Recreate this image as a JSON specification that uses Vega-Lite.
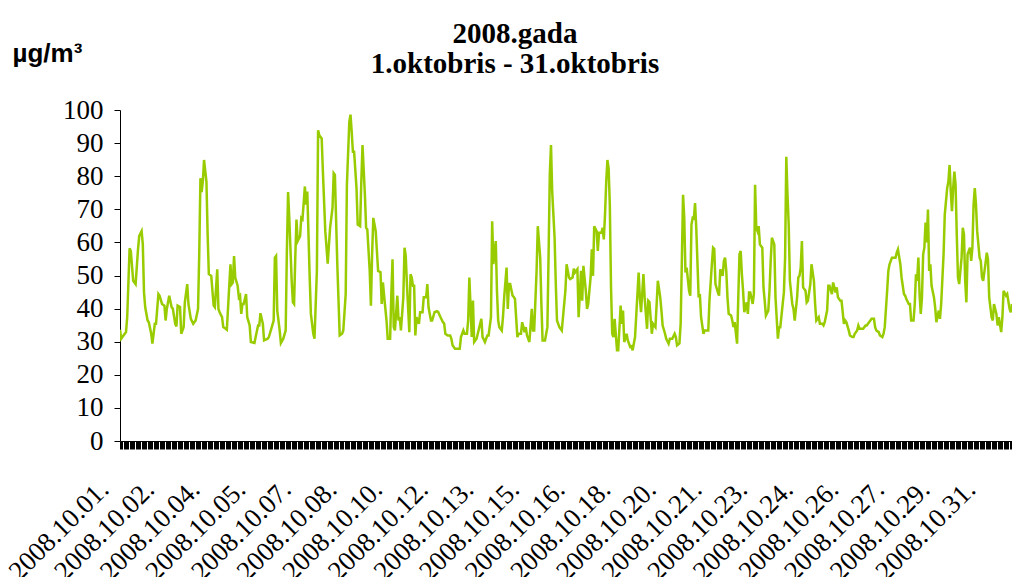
{
  "$schema": "https://vega.github.io/schema/vega-lite/v6.json",
  "autosize": {"type": "none"},
  "width": 892,
  "height": 331,
  "padding": {"left": 120, "top": 110, "right": 0, "bottom": 136},
  "background": "white",
  "config": {"view": {"stroke": null}},
  "title": {
    "text": ["2008.gada", "1.oktobris - 31.oktobris"],
    "font": "Liberation Serif",
    "fontSize": 29,
    "fontWeight": "bold",
    "color": "black",
    "lineHeight": 30,
    "anchor": "middle",
    "frame": "group",
    "baseline": "bottom",
    "dx": -51,
    "dy": 68,
    "offset": 0
  },
  "data": {"values": [
    {"h":0,"v":33.6},{"h":1,"v":30.9},{"h":5,"v":32.9},{"h":6,"v":37.4},{"h":8,"v":58.2},{"h":9,"v":57.4},{"h":11,"v":48.4},{"h":13,"v":47.4},{"h":15,"v":57.9},{"h":16,"v":61.9},{"h":18,"v":63.4},{"h":19,"v":59.4},{"h":20,"v":44.9},{"h":21,"v":40.4},{"h":23,"v":36.4},{"h":24,"v":35.9},{"h":26,"v":32.4},{"h":27,"v":29.4},{"h":29,"v":35.4},{"h":30,"v":35.4},{"h":32,"v":44.4},{"h":33,"v":43.9},{"h":35,"v":41.4},{"h":37,"v":40.9},{"h":38,"v":36.4},{"h":39,"v":39.9},{"h":41,"v":43.9},{"h":43,"v":40.4},{"h":44,"v":40.0},{"h":46,"v":35.4},{"h":47,"v":34.6},{"h":48,"v":40.9},{"h":50,"v":40.5},{"h":51,"v":32.4},{"h":53,"v":34.4},{"h":54,"v":41.9},{"h":56,"v":47.4},{"h":57,"v":41.4},{"h":59,"v":36.9},{"h":61,"v":35.4},{"h":63,"v":36.4},{"h":65,"v":39.9},{"h":66,"v":56.4},{"h":67,"v":79.4},{"h":68,"v":75.2},{"h":69,"v":78.4},{"h":70,"v":84.9},
    {"h":72,"v":78.4},{"h":73,"v":62.4},{"h":74,"v":50.4},{"h":76,"v":49.9},{"h":78,"v":40.9},{"h":79,"v":40.4},{"h":81,"v":51.9},{"h":82,"v":39.9},{"h":83,"v":38.9},{"h":85,"v":37.4},{"h":86,"v":34.4},{"h":88,"v":33.9},{"h":89,"v":33.6},{"h":91,"v":46.9},{"h":92,"v":53.4},{"h":93,"v":47.4},{"h":94,"v":47.9},{"h":95,"v":55.9},{"h":96,"v":49.4},{"h":98,"v":46.9},{"h":99,"v":43.4},{"h":100,"v":43.9},{"h":101,"v":38.4},{"h":102,"v":41.4},{"h":103,"v":41.4},{"h":105,"v":44.4},{"h":106,"v":37.4},{"h":108,"v":34.9},{"h":109,"v":29.9},{"h":112,"v":29.6},{"h":113,"v":31.4},{"h":115,"v":34.9},{"h":116,"v":34.9},{"h":117,"v":38.6},{"h":119,"v":35.4},{"h":120,"v":30.4},{"h":123,"v":30.9},{"h":124,"v":31.4},{"h":126,"v":33.9},{"h":128,"v":36.4},{"h":129,"v":55.4},{"h":130,"v":55.9},{"h":131,"v":39.4},{"h":133,"v":33.4},{"h":134,"v":29.6},{"h":136,"v":30.9},{"h":138,"v":33.4},{"h":139,"v":57.4},{"h":140,"v":75.2},{"h":141,"v":67.4},{"h":143,"v":48.4},{"h":144,"v":41.9},{"h":145,"v":41.4},{"h":146,"v":55.4},{"h":147,"v":66.9},{"h":148,"v":60.4},{"h":150,"v":61.9},{"h":151,"v":67.4},{"h":152,"v":67.0},{"h":154,"v":76.9},{"h":155,"v":71.4},{"h":156,"v":75.4},{"h":158,"v":49.4},{"h":159,"v":38.4},{"h":161,"v":32.4},{"h":162,"v":30.9},{"h":164,"v":51.4},{"h":165,"v":93.9},{"h":166,"v":92.4},{"h":168,"v":91.4},{"h":169,"v":81.4},{"h":171,"v":63.4},{"h":173,"v":53.6},{"h":175,"v":64.4},{"h":177,"v":70.4},{"h":178,"v":80.9},{"h":179,"v":80.4},{"h":181,"v":53.4},{"h":183,"v":31.9},{"h":185,"v":32.4},{"h":186,"v":33.4},{"h":188,"v":44.4},{"h":189,"v":77.4},{"h":191,"v":96.4},{"h":192,"v":98.6},{"h":193,"v":93.4},{"h":194,"v":87.4},{"h":195,"v":87.4},{"h":197,"v":76.4},{"h":198,"v":65.4},{"h":200,"v":64.9},{"h":201,"v":78.4},{"h":202,"v":89.4},{"h":204,"v":74.4},{"h":205,"v":64.4},{"h":206,"v":63.9},{"h":208,"v":51.4},{"h":209,"v":40.9},{"h":210,"v":56.4},{"h":211,"v":67.4},{"h":213,"v":63.4},{"h":214,"v":57.4},{"h":215,"v":51.4},{"h":217,"v":51.0},{"h":218,"v":41.4},{"h":219,"v":47.9},
    {"h":220,"v":43.9},{"h":222,"v":36.4},{"h":223,"v":30.9},{"h":225,"v":30.9},{"h":226,"v":44.4},{"h":227,"v":54.9},{"h":228,"v":34.4},{"h":229,"v":33.4},{"h":231,"v":43.9},{"h":232,"v":36.4},{"h":233,"v":37.4},{"h":234,"v":33.4},{"h":236,"v":43.4},{"h":237,"v":58.4},{"h":238,"v":55.9},{"h":239,"v":47.4},{"h":241,"v":32.9},{"h":242,"v":50.4},{"h":243,"v":49.4},{"h":244,"v":46.9},{"h":245,"v":46.9},{"h":246,"v":31.9},{"h":247,"v":37.4},{"h":249,"v":35.4},{"h":250,"v":38.9},{"h":252,"v":38.9},{"h":253,"v":43.4},{"h":255,"v":43.4},{"h":256,"v":47.4},{"h":257,"v":40.4},{"h":259,"v":36.4},{"h":260,"v":36.4},{"h":262,"v":38.9},{"h":264,"v":39.2},{"h":265,"v":39.0},{"h":267,"v":37.4},{"h":269,"v":35.9},{"h":270,"v":35.5},{"h":271,"v":32.4},{"h":273,"v":31.9},{"h":275,"v":31.9},{"h":276,"v":30.9},{"h":277,"v":28.9},{"h":279,"v":27.9},{"h":282,"v":27.9},{"h":283,"v":27.9},{"h":284,"v":31.4},{"h":286,"v":33.4},{"h":287,"v":32.4},{"h":289,"v":32.4},{"h":290,"v":36.4},{"h":291,"v":49.4},{"h":293,"v":31.4},{"h":294,"v":42.4},{"h":295,"v":29.9},
    {"h":297,"v":30.9},{"h":298,"v":32.4},{"h":300,"v":35.4},{"h":301,"v":36.9},{"h":302,"v":31.4},{"h":304,"v":29.9},{"h":306,"v":31.9},{"h":307,"v":31.9},{"h":309,"v":37.4},{"h":310,"v":66.4},{"h":311,"v":53.4},{"h":313,"v":60.4},{"h":314,"v":45.4},{"h":315,"v":36.4},{"h":316,"v":34.4},{"h":318,"v":33.4},{"h":319,"v":37.4},{"h":320,"v":43.4},{"h":322,"v":52.4},{"h":323,"v":39.9},{"h":324,"v":47.4},{"h":325,"v":47.4},{"h":327,"v":43.9},{"h":328,"v":43.5},{"h":329,"v":42.9},{"h":331,"v":31.4},{"h":332,"v":32.4},{"h":334,"v":32.4},{"h":335,"v":35.9},{"h":337,"v":32.9},{"h":338,"v":34.4},{"h":339,"v":31.9},{"h":341,"v":29.9},{"h":343,"v":39.9},{"h":344,"v":33.4},{"h":345,"v":33.4},{"h":347,"v":51.4},{"h":348,"v":64.9},{"h":350,"v":55.4},{"h":351,"v":41.4},{"h":352,"v":30.4},{"h":354,"v":30.4},{"h":356,"v":34.4},{"h":357,"v":56.4},{"h":358,"v":80.4},{"h":359,"v":89.4},{"h":360,"v":75.4},{"h":362,"v":61.4},{"h":363,"v":47.4},{"h":364,"v":36.4},{"h":366,"v":34.4},{"h":368,"v":33.4},{"h":369,"v":37.4},
    {"h":370,"v":41.4},{"h":371,"v":45.4},{"h":372,"v":53.4},{"h":374,"v":49.4},{"h":375,"v":48.9},{"h":377,"v":49.4},{"h":378,"v":52.1},{"h":379,"v":50.9},{"h":381,"v":51.9},{"h":382,"v":37.4},{"h":384,"v":51.4},{"h":385,"v":42.4},{"h":386,"v":52.9},{"h":388,"v":45.4},{"h":389,"v":39.9},{"h":390,"v":41.4},{"h":392,"v":49.4},{"h":393,"v":57.9},{"h":394,"v":49.9},{"h":395,"v":64.9},{"h":397,"v":63.4},{"h":398,"v":57.4},{"h":399,"v":62.9},{"h":401,"v":62.9},{"h":402,"v":64.4},{"h":403,"v":60.9},{"h":404,"v":68.4},{"h":405,"v":78.4},{"h":406,"v":84.9},{"h":407,"v":82.4},{"h":408,"v":71.4},{"h":409,"v":46.4},{"h":410,"v":32.4},{"h":411,"v":31.4},{"h":412,"v":36.9},{"h":414,"v":27.4},{"h":415,"v":27.4},{"h":417,"v":40.9},{"h":418,"v":35.4},{"h":419,"v":39.4},{"h":420,"v":29.9},{"h":422,"v":32.4},{"h":423,"v":30.4},{"h":425,"v":28.4},{"h":426,"v":28.6},{"h":427,"v":27.4},{"h":429,"v":31.4},{"h":430,"v":37.9},{"h":432,"v":50.9},{"h":433,"v":43.4},{"h":434,"v":38.9},{"h":436,"v":50.4},{"h":437,"v":43.4},{"h":439,"v":33.9},{"h":440,"v":42.4},{"h":441,"v":42.0},{"h":443,"v":32.4},{"h":444,"v":35.4},
    {"h":446,"v":34.4},{"h":447,"v":41.4},{"h":448,"v":48.4},{"h":450,"v":43.4},{"h":451,"v":39.4},{"h":452,"v":34.9},{"h":454,"v":32.4},{"h":455,"v":30.9},{"h":457,"v":29.4},{"h":458,"v":30.9},{"h":460,"v":30.9},{"h":462,"v":32.4},{"h":463,"v":31.4},{"h":464,"v":28.9},{"h":466,"v":29.5},{"h":467,"v":35.4},{"h":468,"v":54.4},{"h":469,"v":74.4},{"h":470,"v":67.4},{"h":471,"v":50.9},{"h":472,"v":52.4},{"h":474,"v":45.4},{"h":475,"v":43.9},{"h":476,"v":65.4},{"h":477,"v":67.4},{"h":478,"v":67.2},{"h":479,"v":71.9},{"h":480,"v":64.4},{"h":482,"v":43.4},{"h":483,"v":44.4},{"h":484,"v":37.4},{"h":486,"v":32.4},{"h":487,"v":33.4},{"h":489,"v":33.4},{"h":490,"v":33.4},{"h":491,"v":42.4},{"h":493,"v":53.4},{"h":494,"v":58.4},{"h":495,"v":58.0},{"h":496,"v":47.4},{"h":498,"v":44.9},{"h":499,"v":43.9},{"h":500,"v":51.9},{"h":502,"v":49.9},{"h":503,"v":54.4},{"h":504,"v":55.4},{"h":505,"v":51.4},{"h":506,"v":43.4},{"h":507,"v":38.4},{"h":509,"v":37.9},{"h":510,"v":36.4},{"h":511,"v":34.4},{"h":512,"v":35.9},{"h":514,"v":29.4},{"h":515,"v":43.4},{"h":516,"v":56.4},{"h":517,"v":57.4},{"h":518,"v":50.4},{"h":519,"v":45.4},{"h":520,"v":38.9},{"h":522,"v":41.9},{"h":523,"v":38.4},{"h":524,"v":44.9},
    {"h":525,"v":44.9},{"h":527,"v":41.4},{"h":528,"v":44.4},{"h":529,"v":77.4},{"h":530,"v":64.4},{"h":531,"v":63.4},{"h":532,"v":64.9},{"h":533,"v":59.4},{"h":535,"v":58.4},{"h":536,"v":46.4},{"h":537,"v":42.4},{"h":538,"v":37.9},{"h":540,"v":39.4},{"h":541,"v":45.4},{"h":542,"v":54.4},{"h":543,"v":61.4},{"h":545,"v":59.4},{"h":546,"v":43.4},{"h":548,"v":30.9},{"h":549,"v":34.4},{"h":550,"v":34.4},{"h":552,"v":41.4},{"h":553,"v":44.9},{"h":554,"v":55.4},{"h":555,"v":85.9},{"h":556,"v":74.4},{"h":557,"v":65.4},{"h":558,"v":48.4},{"h":560,"v":41.4},{"h":561,"v":39.9},{"h":562,"v":36.4},{"h":564,"v":43.4},{"h":565,"v":49.4},{"h":566,"v":49.9},{"h":567,"v":52.4},{"h":568,"v":60.4},{"h":569,"v":46.4},{"h":571,"v":45.4},{"h":572,"v":41.9},{"h":573,"v":42.4},{"h":575,"v":47.4},{"h":576,"v":53.4},{"h":578,"v":48.4},{"h":579,"v":41.4},{"h":580,"v":36.4},{"h":582,"v":37.4},{"h":583,"v":35.4},{"h":585,"v":35.4},{"h":586,"v":34.9},{"h":587,"v":35.9},{"h":589,"v":39.4},{"h":590,"v":46.9},{"h":591,"v":46.9},{"h":593,"v":44.4},{"h":594,"v":47.9},
    {"h":596,"v":44.9},{"h":597,"v":46.4},{"h":598,"v":43.4},{"h":600,"v":42.4},{"h":601,"v":42.4},{"h":603,"v":35.4},{"h":604,"v":36.4},{"h":605,"v":35.9},{"h":607,"v":33.4},{"h":608,"v":31.9},{"h":610,"v":31.4},{"h":611,"v":31.4},{"h":612,"v":32.4},{"h":614,"v":33.4},{"h":615,"v":34.9},{"h":616,"v":33.9},{"h":618,"v":33.9},{"h":619,"v":33.9},{"h":621,"v":34.9},{"h":622,"v":34.9},{"h":623,"v":35.4},{"h":625,"v":36.4},{"h":626,"v":36.9},{"h":628,"v":36.9},{"h":629,"v":34.4},{"h":630,"v":33.4},{"h":632,"v":32.9},{"h":633,"v":31.9},{"h":635,"v":31.4},{"h":636,"v":32.4},{"h":637,"v":34.4},{"h":639,"v":45.4},{"h":640,"v":51.4},{"h":641,"v":53.4},{"h":643,"v":55.4},{"h":644,"v":55.4},{"h":646,"v":55.4},{"h":647,"v":56.9},{"h":648,"v":57.9},{"h":650,"v":53.4},{"h":651,"v":49.4},{"h":653,"v":44.4},{"h":654,"v":43.9},{"h":655,"v":42.9},{"h":657,"v":41.4},{"h":658,"v":41.4},{"h":659,"v":36.4},{"h":661,"v":36.4},{"h":662,"v":41.4},{"h":663,"v":50.4},{"h":664,"v":48.4},{"h":665,"v":55.4},{"h":666,"v":44.4},{"h":667,"v":38.4},{"h":668,"v":43.4},{"h":669,"v":56.4},
    {"h":670,"v":58.4},{"h":671,"v":66.0},{"h":672,"v":60.0},{"h":673,"v":69.9},{"h":674,"v":51.4},{"h":675,"v":53.4},{"h":676,"v":46.9},{"h":678,"v":43.4},{"h":679,"v":40.4},{"h":680,"v":35.9},{"h":682,"v":39.4},{"h":683,"v":36.9},{"h":684,"v":41.4},{"h":686,"v":56.4},{"h":687,"v":68.4},{"h":689,"v":76.4},{"h":690,"v":78.4},{"h":691,"v":83.4},{"h":692,"v":75.4},{"h":693,"v":69.4},{"h":694,"v":76.4},{"h":695,"v":81.4},{"h":696,"v":77.4},{"h":697,"v":62.4},{"h":698,"v":49.4},{"h":699,"v":47.4},{"h":701,"v":55.4},{"h":702,"v":64.4},{"h":703,"v":62.4},{"h":704,"v":48.4},{"h":705,"v":41.9},{"h":706,"v":56.4},{"h":708,"v":58.4},{"h":709,"v":54.4},{"h":710,"v":58.4},{"h":711,"v":71.4},{"h":712,"v":76.4},{"h":713,"v":71.4},{"h":714,"v":63.4},{"h":716,"v":55.4},{"h":717,"v":54.4},{"h":718,"v":49.4},{"h":719,"v":48.4},{"h":721,"v":53.9},{"h":722,"v":56.9},{"h":723,"v":54.9},{"h":724,"v":43.4},{"h":726,"v":37.4},{"h":727,"v":36.4},{"h":728,"v":41.4},{"h":730,"v":38.4},{"h":731,"v":34.9},{"h":732,"v":37.4},{"h":734,"v":32.9},{"h":735,"v":37.4},{"h":736,"v":45.4},{"h":738,"v":43.9},{"h":739,"v":44.4},{"h":741,"v":39.9},{"h":742,"v":38.9},{"h":743,"v":41.4}
  ]},
  "mark": {"type": "line", "color": "#99CC00", "strokeWidth": 2.5, "clip": true},
  "encoding": {
    "x": {
      "field": "h",
      "type": "quantitative",
      "scale": {"domain": [0, 743], "nice": false, "zero": false},
      "axis": {
        "title": null,
        "grid": false,
        "tickCount": 744,
        "tickSize": 8,
        "tickColor": "black",
        "tickWidth": 1,
        "domainColor": "black",
        "domainWidth": 1,
        "labelExpr": "datum.value % 38 === 0 ? '2008.10.' + (floor(datum.value/24) + 1 < 10 ? '0' : '') + (floor(datum.value/24) + 1) + '.' : ''",
        "labelAngle": -45,
        "labelAlign": "right",
        "labelBaseline": "middle",
        "labelOffset": -16,
        "labelPadding": 36,
        "labelOverlap": false,
        "labelFlush": false,
        "labelBound": false,
        "labelFont": "Liberation Serif",
        "labelFontSize": 27,
        "labelColor": "black"
      }
    },
    "y": {
      "field": "v",
      "type": "quantitative",
      "scale": {"domain": [0, 100], "nice": false},
      "axis": {
        "title": "µg/m³",
        "titleAngle": 0,
        "titleX": -108,
        "titleY": -49,
        "titleAlign": "left",
        "titleBaseline": "alphabetic",
        "titleFont": "Liberation Sans",
        "titleFontSize": 26,
        "titleFontWeight": "bold",
        "titleColor": "black",
        "grid": false,
        "values": [0, 10, 20, 30, 40, 50, 60, 70, 80, 90, 100],
        "tickSize": 6,
        "tickColor": "black",
        "domainColor": "black",
        "labelFont": "Liberation Serif",
        "labelFontSize": 27,
        "labelColor": "black",
        "labelPadding": 11
      }
    }
  }
}
